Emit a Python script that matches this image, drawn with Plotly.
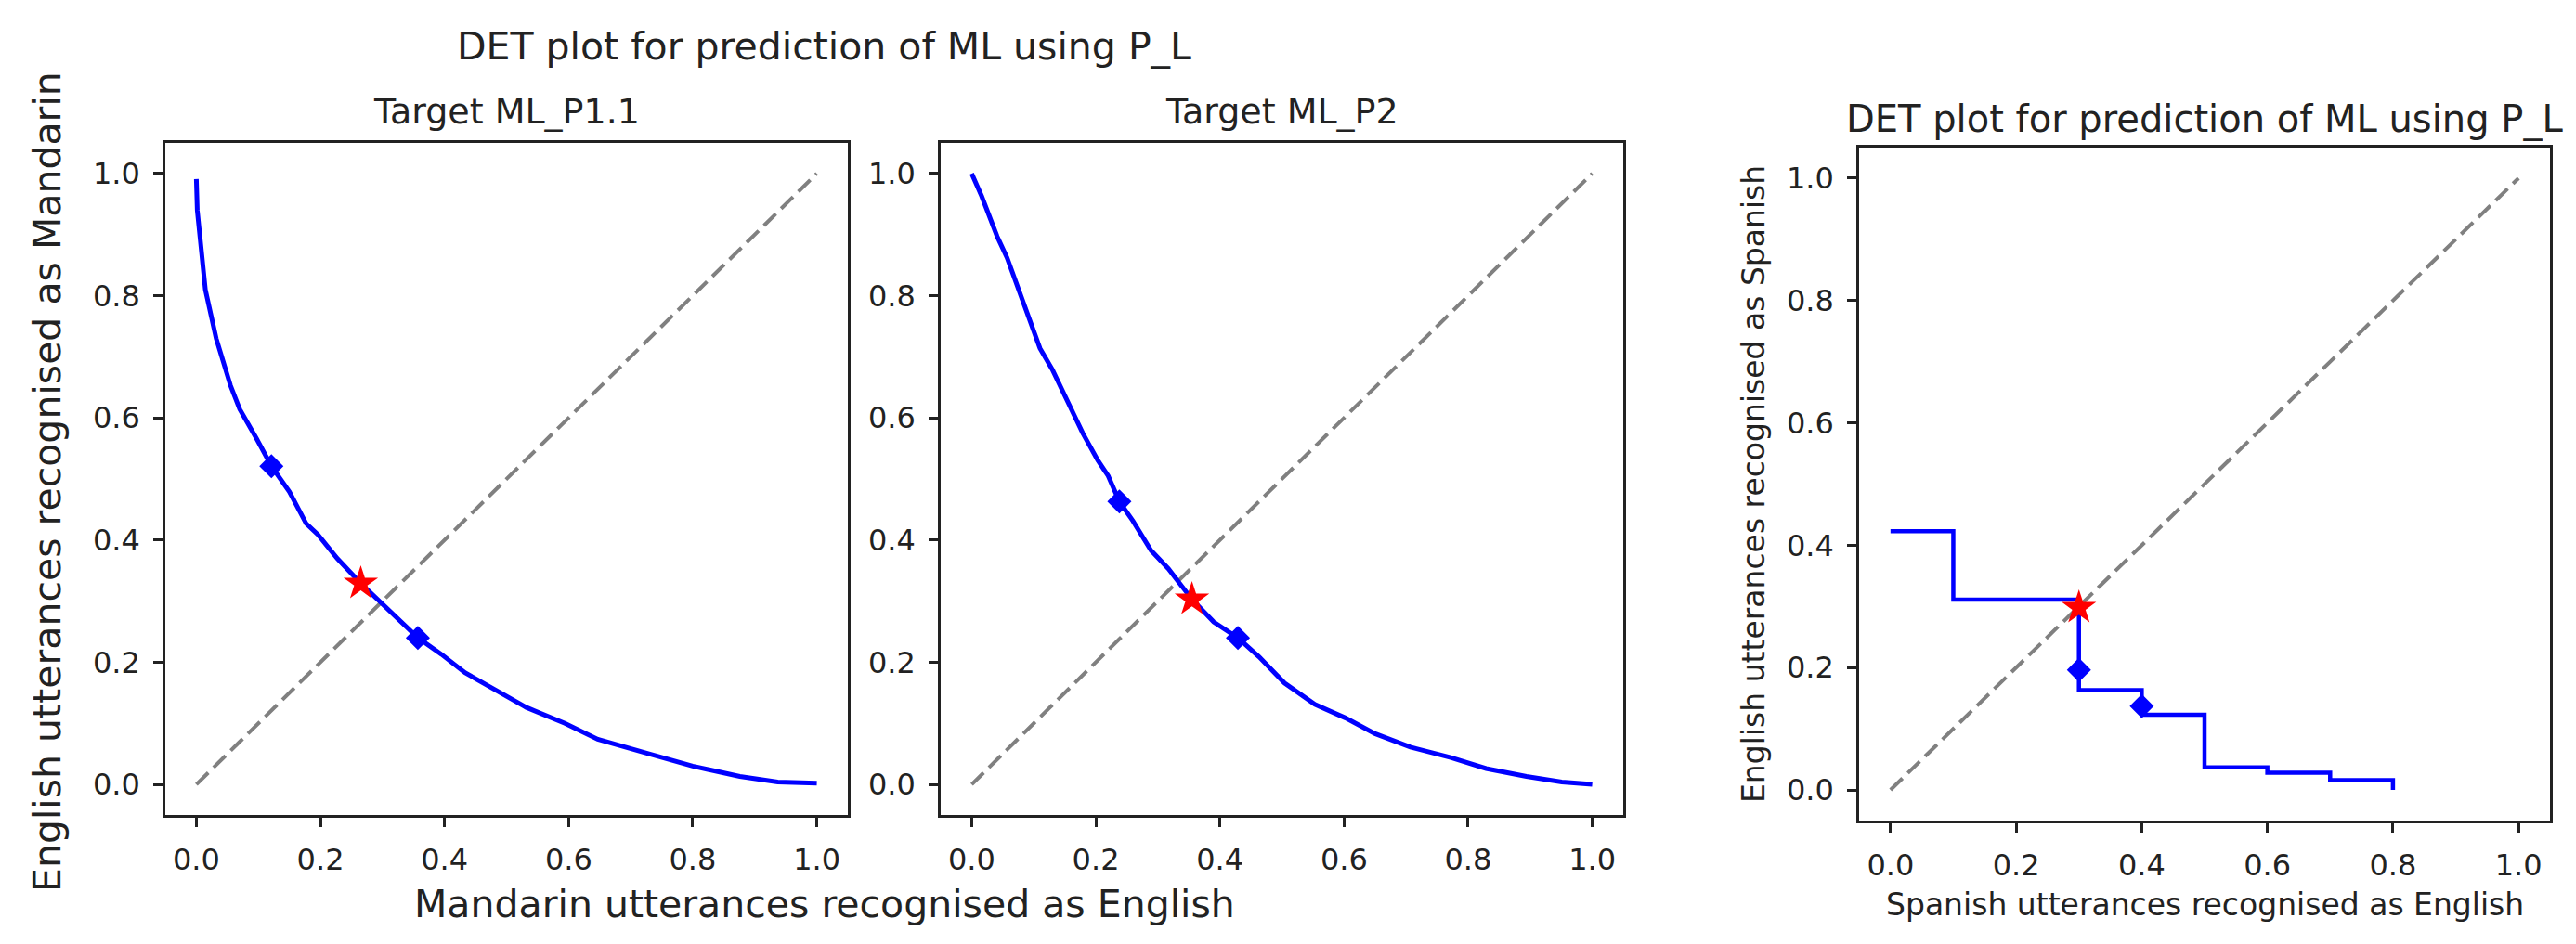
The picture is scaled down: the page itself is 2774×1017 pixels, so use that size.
import plotly.graph_objects as go

# Target ML_P1.1 (left panel)
p1_x = [0.0, 0.0015, 0.0145, 0.032, 0.055, 0.07, 0.097, 0.121, 0.15, 0.177, 0.196, 0.227, 0.265, 0.303,
        0.357, 0.395, 0.433, 0.471, 0.532, 0.594, 0.647, 0.723, 0.8, 0.876, 0.937, 1.0]
p1_y = [0.991, 0.94, 0.81, 0.73, 0.653, 0.614, 0.566, 0.521, 0.479, 0.427, 0.409, 0.37, 0.329, 0.292,
        0.24, 0.213, 0.183, 0.161, 0.126, 0.1, 0.074, 0.052, 0.03, 0.013, 0.004, 0.002]
p1_diamond_x = [0.121, 0.357]
p1_diamond_y = [0.521, 0.24]
p1_eer = (0.265, 0.329)

# Target ML_P2 (middle panel)
p2_x = [0.0, 0.016, 0.041, 0.057, 0.085, 0.11, 0.13, 0.154, 0.179, 0.203, 0.22, 0.238, 0.26, 0.289, 0.317,
        0.355, 0.39, 0.429, 0.463, 0.504, 0.553, 0.602, 0.65, 0.707, 0.772, 0.829, 0.894, 0.951, 1.0]
p2_y = [1.0, 0.963, 0.897, 0.862, 0.784, 0.714, 0.679, 0.627, 0.575, 0.531, 0.505, 0.463, 0.431, 0.383, 0.353,
        0.303, 0.266, 0.24, 0.209, 0.166, 0.131, 0.109, 0.083, 0.061, 0.044, 0.026, 0.013, 0.004, 0.0]
p2_diamond_x = [0.238, 0.429]
p2_diamond_y = [0.463, 0.24]
p2_eer = (0.355, 0.303)

# Spanish vs English (right panel, step curve)
p3_x = [0.0, 0.1, 0.3, 0.4, 0.5, 0.6, 0.7, 0.8]
p3_y = [0.423, 0.311, 0.163, 0.123, 0.037, 0.028, 0.016, 0.0]
p3_diamond_x = [0.3, 0.4]
p3_diamond_y = [0.196, 0.137]
p3_eer = (0.3, 0.298)

diag = [0.0, 1.0]
tick_vals = [0.0, 0.2, 0.4, 0.6, 0.8, 1.0]
tick_text = ["0.0", "0.2", "0.4", "0.6", "0.8", "1.0"]

W, H = 2774, 1017
FONT = "DejaVu Sans"


def px_x(a, b):
    return [a / W, b / W]


def px_y(top, bottom):
    return [1 - bottom / H, 1 - top / H]


fig = go.Figure()

panels = [
    ("", p1_x, p1_y, p1_diamond_x, p1_diamond_y, p1_eer, "linear"),
    ("2", p2_x, p2_y, p2_diamond_x, p2_diamond_y, p2_eer, "linear"),
    ("3", p3_x, p3_y, p3_diamond_x, p3_diamond_y, p3_eer, "hv"),
]

for suffix, xs, ys, dx, dy, eer, shape in panels:
    xa, ya = "x" + suffix, "y" + suffix
    fig.add_trace(go.Scatter(x=diag, y=diag, mode="lines", xaxis=xa, yaxis=ya,
                             line=dict(color="#808080", width=4, dash="18px,8px")))
    fig.add_trace(go.Scatter(x=xs, y=ys, mode="lines", xaxis=xa, yaxis=ya,
                             line=dict(color="blue", width=5 if shape == "linear" else 4.5, shape=shape)))
    fig.add_trace(go.Scatter(x=dx, y=dy, mode="markers", xaxis=xa, yaxis=ya,
                             marker=dict(symbol="diamond", size=20, color="blue")))
    fig.add_trace(go.Scatter(x=[eer[0]], y=[eer[1]], mode="markers", xaxis=xa, yaxis=ya,
                             marker=dict(symbol="star", size=28, color="red")))

axis_style = dict(
    range=[-0.05, 1.05], tickvals=tick_vals, ticktext=tick_text,
    showline=True, mirror=True, linecolor="#222222", linewidth=2.5,
    ticks="outside", ticklen=10, tickwidth=2.5, tickcolor="#222222",
    ticklabelstandoff=8,
    showgrid=False, zeroline=False,
    tickfont=dict(family=FONT, size=32, color="#222222"),
)

fig.update_layout(
    width=W, height=H,
    margin=dict(l=0, r=0, t=0, b=0),
    paper_bgcolor="white", plot_bgcolor="white",
    showlegend=False,
    xaxis=dict(domain=px_x(170, 905), anchor="y", **axis_style),
    yaxis=dict(domain=px_y(146, 870), anchor="x", **axis_style),
    xaxis2=dict(domain=px_x(1005, 1740), anchor="y2", **axis_style),
    yaxis2=dict(domain=px_y(146, 870), anchor="x2", **axis_style),
    xaxis3=dict(domain=px_x(1994, 2738), anchor="y3", **axis_style),
    yaxis3=dict(domain=px_y(151, 876), anchor="x3", **axis_style),
)

labels = [
    ("DET plot for prediction of ML using P_L", 879, 42, 41, 0),
    ("Target ML_P1.1", 537, 112, 38, 0),
    ("Target ML_P2", 1372, 112, 38, 0),
    ("Mandarin utterances recognised as English", 880, 966, 41, 0),
    ("English utterances recognised as Mandarin", 43, 511, 41, -90),
    ("DET plot for prediction of ML using P_L", 2366, 121, 40, 0),
    ("Spanish utterances recognised as English", 2366, 966, 33, 0),
    ("English utterances recognised as Spanish", 1880, 514, 33, -90),
]
for text, x, y, size, angle in labels:
    fig.add_annotation(text=text, x=x / W, y=1 - y / H, xref="paper", yref="paper",
                       xanchor="center", yanchor="middle", showarrow=False, textangle=angle,
                       font=dict(family=FONT, size=size, color="#222222"))

fig.write_html("out.html")
